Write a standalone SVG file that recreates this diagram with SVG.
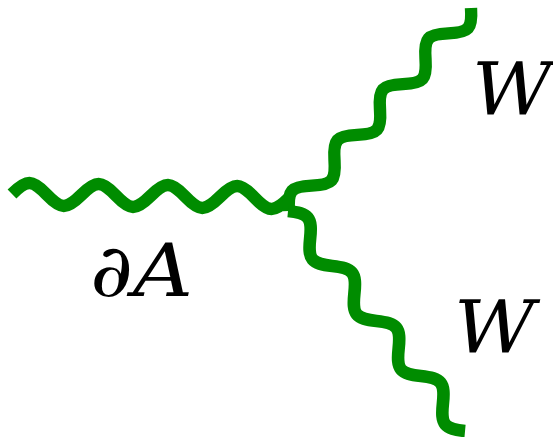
<svg xmlns="http://www.w3.org/2000/svg" xmlns:xlink="http://www.w3.org/1999/xlink" width="553" height="437" viewBox="0 0 553 437">
  <style>
    .photon { fill: none; stroke: #008c00; stroke-width: 12.5; stroke-linecap: butt; stroke-linejoin: round; }
    .lbl { font-family: "DejaVu Serif", serif; font-style: italic; font-size: 73px; fill: #000000; }
  </style>
  <defs>
    <path id="wave" d="M0,0 C14.70,-14.93 19.93,-14.93 34.63,0 S54.56,14.93 69.26,0 S89.19,-14.93 103.89,0 S123.82,14.93 138.52,0 S158.45,-14.93 173.15,0 S193.08,14.93 207.78,0 S227.71,-14.93 242.41,0 S262.34,14.93 277.04,0"/>
  </defs>
  <rect width="553" height="437" fill="#ffffff"/>
  <g id="connectors">
    <use id="photon-A" class="photon" xlink:href="#wave" transform="translate(12,194) rotate(0.827)"/>
    <use id="photon-W1" class="photon" xlink:href="#wave" transform="translate(289,211) rotate(-48.12) scale(0.9841,1)"/>
    <use id="photon-W2" class="photon" xlink:href="#wave" transform="translate(288,211) rotate(51.18) scale(1.0194,1)"/>
  </g>
  <g id="label-dA">
    <text class="lbl" x="90" y="296" textLength="103" lengthAdjust="spacingAndGlyphs">∂A</text>
  </g>
  <g id="label-W1">
    <text class="lbl" x="472" y="115" textLength="80" lengthAdjust="spacingAndGlyphs">W</text>
  </g>
  <g id="label-W2">
    <text class="lbl" x="454" y="353" textLength="81" lengthAdjust="spacingAndGlyphs">W</text>
  </g>
</svg>
